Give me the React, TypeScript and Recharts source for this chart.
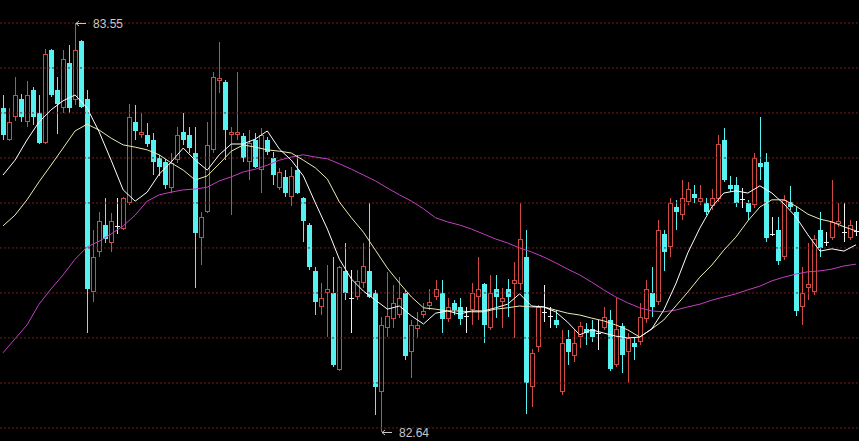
import React from 'react';
import { ComposedChart, Bar, Line, XAxis, YAxis, ReferenceLine, ReferenceDot } from 'recharts';

// ---- data (prices) ----
const opens = [
  83.361, 83.290, 83.341, 83.381, 83.330, 83.401, 83.350, 83.283, 83.490, 83.401,
  83.361, 83.461, 83.379, 83.510, 83.381, 82.952, 83.041, 83.101, 83.061, 83.099,
  83.092, 83.150, 83.330, 83.301, 83.301, 83.290, 83.250, 83.241, 83.183, 83.245,
  83.308, 83.301, 83.261, 83.072, 83.130, 83.268, 83.421, 83.419, 83.301, 83.301,
  83.299, 83.241, 83.290, 83.223, 83.290, 83.250, 83.183, 83.208, 83.163, 83.223,
  83.161, 83.101, 82.999, 82.919, 82.950, 82.950, 82.779, 82.999, 82.939, 82.941,
  82.972, 82.999, 82.950, 82.730, 82.872, 82.892, 82.901, 82.950, 82.819, 82.870,
  82.901, 82.921, 82.941, 82.950, 82.892, 82.928, 82.919, 82.899, 82.912, 82.941,
  82.970, 82.872, 82.959, 82.930, 82.959, 82.970, 82.970, 83.030, 82.741, 82.830,
  82.908, 82.899, 82.890, 82.730, 82.848, 82.810, 82.852, 82.870, 82.870, 82.861,
  82.872, 82.890, 82.790, 82.877, 82.819, 82.839, 82.841, 82.892, 82.950, 82.930,
  83.081, 83.052, 83.141, 83.123, 83.152, 83.170, 83.152, 83.150, 83.143, 83.159,
  83.290, 83.190, 83.190, 83.159, 83.150, 83.145, 83.239, 83.241, 83.081, 83.090,
  83.030, 83.152, 83.130, 82.919, 82.961, 82.952, 83.090, 83.063, 83.072, 83.103,
  83.085, 83.072, 83.088,
];
const highs = [
  83.390, 83.361, 83.430, 83.392, 83.421, 83.408, 83.390, 83.492, 83.492, 83.430,
  83.490, 83.501, 83.550, 83.512, 83.401, 83.090, 83.130, 83.161, 83.128, 83.161,
  83.163, 83.370, 83.368, 83.350, 83.328, 83.305, 83.257, 83.248, 83.261, 83.319,
  83.350, 83.319, 83.319, 83.130, 83.330, 83.441, 83.508, 83.423, 83.319, 83.441,
  83.305, 83.312, 83.305, 83.317, 83.297, 83.263, 83.228, 83.223, 83.230, 83.257,
  83.163, 83.105, 83.008, 82.972, 83.012, 83.030, 83.010, 83.061, 83.001, 83.001,
  83.061, 83.150, 82.957, 82.897, 82.997, 82.968, 82.985, 82.957, 82.890, 82.908,
  82.928, 82.959, 82.979, 82.979, 82.939, 82.934, 82.939, 82.919, 82.972, 83.030,
  82.972, 82.990, 82.990, 82.961, 82.981, 83.019, 83.150, 83.090, 82.825, 82.923,
  82.968, 82.919, 82.912, 82.868, 82.868, 82.868, 82.885, 82.883, 82.890, 82.890,
  82.919, 82.912, 82.939, 82.883, 82.861, 82.852, 82.928, 82.979, 83.008, 83.112,
  83.090, 83.161, 83.157, 83.201, 83.197, 83.190, 83.190, 83.161, 83.181, 83.301,
  83.317, 83.210, 83.208, 83.183, 83.157, 83.261, 83.341, 83.261, 83.119, 83.119,
  83.168, 83.188, 83.141, 83.008, 83.061, 83.079, 83.130, 83.085, 83.201, 83.150,
  83.150, 83.112, 83.110,
];
const lows = [
  83.290, 83.288, 83.332, 83.330, 83.319, 83.323, 83.281, 83.281, 83.385, 83.303,
  83.350, 83.350, 83.368, 83.361, 82.861, 82.930, 83.030, 83.061, 83.041, 83.081,
  83.090, 83.145, 83.290, 83.294, 83.274, 83.212, 83.210, 83.181, 83.172, 83.239,
  83.279, 83.261, 82.961, 83.012, 83.128, 83.261, 83.394, 83.245, 83.123, 83.290,
  83.241, 83.201, 83.228, 83.172, 83.257, 83.190, 83.179, 83.163, 83.143, 83.170,
  83.063, 83.001, 82.901, 82.901, 82.852, 82.785, 82.777, 82.934, 82.861, 82.934,
  82.961, 82.939, 82.679, 82.640, 82.852, 82.872, 82.894, 82.801, 82.761, 82.850,
  82.894, 82.912, 82.934, 82.861, 82.885, 82.901, 82.879, 82.861, 82.879, 82.890,
  82.839, 82.868, 82.894, 82.872, 82.897, 82.850, 82.957, 82.681, 82.697, 82.819,
  82.885, 82.872, 82.872, 82.723, 82.790, 82.797, 82.828, 82.834, 82.841, 82.823,
  82.868, 82.777, 82.785, 82.772, 82.750, 82.801, 82.834, 82.883, 82.897, 82.923,
  82.999, 83.030, 83.090, 83.112, 83.145, 83.150, 83.145, 83.123, 83.134, 83.152,
  83.197, 83.174, 83.141, 83.139, 83.112, 83.139, 83.201, 83.063, 83.077, 83.012,
  83.023, 83.134, 82.899, 82.879, 82.934, 82.945, 83.030, 83.054, 83.068, 83.097,
  83.063, 83.068, 83.077,
];
const closes = [
  83.301, 83.330, 83.390, 83.341, 83.390, 83.341, 83.283, 83.481, 83.390, 83.370,
  83.470, 83.361, 83.490, 83.363, 82.959, 83.030, 83.110, 83.070, 83.110, 83.099,
  83.161, 83.341, 83.310, 83.308, 83.281, 83.241, 83.230, 83.190, 83.239, 83.301,
  83.290, 83.272, 83.083, 83.119, 83.279, 83.430, 83.428, 83.312, 83.308, 83.308,
  83.250, 83.283, 83.230, 83.301, 83.263, 83.212, 83.219, 83.172, 83.210, 83.172,
  83.110, 83.008, 82.930, 82.939, 82.959, 82.790, 83.008, 82.950, 82.939, 82.977,
  83.010, 82.941, 82.741, 82.879, 82.899, 82.928, 82.939, 82.810, 82.879, 82.879,
  82.910, 82.930, 82.959, 82.892, 82.919, 82.912, 82.892, 82.899, 82.950, 82.959,
  82.879, 82.950, 82.941, 82.939, 82.941, 82.979, 83.070, 82.750, 82.817, 82.919,
  82.908, 82.899, 82.879, 82.839, 82.819, 82.839, 82.877, 82.861, 82.852, 82.861,
  82.897, 82.781, 82.870, 82.812, 82.850, 82.830, 82.897, 82.959, 82.919, 83.090,
  83.041, 83.150, 83.130, 83.161, 83.181, 83.161, 83.161, 83.130, 83.161, 83.281,
  83.201, 83.181, 83.150, 83.159, 83.130, 83.250, 83.230, 83.072, 83.081, 83.021,
  83.157, 83.141, 82.910, 82.950, 82.970, 83.070, 83.050, 83.063, 83.108, 83.110,
  83.085, 83.101, 83.088,
];

// moving averages, one value every second session (sessions 0, 2, 4, ...)
const ma10Vals = [
  83.212, 83.245, 83.290, 83.330, 83.357, 83.377, 83.390, 83.361, 83.308, 83.245,
  83.179, 83.154, 83.174, 83.214, 83.241, 83.272, 83.245, 83.223, 83.257, 83.281,
  83.281, 83.292, 83.310, 83.270, 83.245, 83.210, 83.150, 83.092, 83.025, 82.981,
  82.954, 82.934, 82.914, 82.921, 82.899, 82.881, 82.905, 82.910, 82.903, 82.910,
  82.910, 82.917, 82.925, 82.948, 82.921, 82.919, 82.908, 82.885, 82.857, 82.868,
  82.861, 82.854, 82.850, 82.852, 82.870, 82.912, 82.970, 83.039, 83.094, 83.141,
  83.172, 83.177, 83.172, 83.188, 83.172, 83.148, 83.119, 83.079, 83.043, 83.048,
  83.043, 83.057,
];
const ma20Vals = [
  83.099, 83.123, 83.157, 83.197, 83.234, 83.272, 83.310, 83.325, 83.312, 83.294,
  83.279, 83.274, 83.268, 83.257, 83.239, 83.223, 83.201, 83.210, 83.237, 83.265,
  83.279, 83.274, 83.268, 83.265, 83.261, 83.245, 83.228, 83.203, 83.152, 83.117,
  83.085, 83.045, 83.005, 82.972, 82.941, 82.917, 82.914, 82.910, 82.910, 82.908,
  82.908, 82.914, 82.917, 82.921, 82.919, 82.919, 82.912, 82.905, 82.901, 82.894,
  82.888, 82.879, 82.868, 82.852, 82.870, 82.890, 82.921, 82.952, 82.985, 83.012,
  83.045, 83.074, 83.110, 83.141, 83.157, 83.157, 83.143, 83.125, 83.114, 83.108,
  83.097, 83.088,
];
const ma60Vals = [
  82.817, 82.848, 82.879, 82.925, 82.959, 82.990, 83.025, 83.052, 83.065, 83.081,
  83.099, 83.123, 83.154, 83.168, 83.174, 83.179, 83.181, 83.185, 83.199, 83.208,
  83.219, 83.225, 83.234, 83.245, 83.252, 83.257, 83.252, 83.248, 83.237, 83.225,
  83.212, 83.199, 83.183, 83.168, 83.154, 83.137, 83.117, 83.108, 83.101, 83.092,
  83.081, 83.070, 83.061, 83.050, 83.041, 83.030, 83.017, 83.003, 82.990, 82.974,
  82.957, 82.941, 82.928, 82.917, 82.910, 82.908, 82.912, 82.919, 82.925, 82.934,
  82.941, 82.948, 82.957, 82.965, 82.977, 82.985, 82.992, 82.997, 82.999, 83.003,
  83.010, 83.014,
];

const gridPrices = [83.55, 83.45, 83.35, 83.25, 83.15, 83.05, 82.95, 82.85, 82.75, 82.65];
const highMark = { index: 12, price: 83.55, label: '83.55' };
const lowMark = { index: 63, price: 82.64, label: '82.64' };

const data = opens.map((o, i) => ({
  i,
  open: o,
  high: highs[i],
  low: lows[i],
  close: closes[i],
  range: [lows[i], highs[i]],
}));
// each average sampled on sessions 0, 2, 4, ...
const ma10Data = ma10Vals.map((v, j) => ({ i: j * 2, ma10: v }));
const ma20Data = ma20Vals.map((v, j) => ({ i: j * 2, ma20: v }));
const ma60Data = ma60Vals.map((v, j) => ({ i: j * 2, ma60: v }));

const UP = '#cf4a42';
const DOWN = '#56f2f2';
const FLAT = '#f0f0f0';

function Candle(props: any) {
  const { x, y, width, height, payload } = props;
  if (x == null || y == null || !payload) return null;
  const top = Math.min(y, y + height);
  const h = Math.abs(height);
  const { open, close, high, low } = payload;
  const span = high - low;
  const py = (v: number) => (span > 0 ? top + ((high - v) / span) * h : top);
  const left = Math.round(x + width / 2 - 2.5);
  const cx = left + 2.5;
  const yH = Math.round(py(high));
  const yL = Math.round(py(low));
  const bTop = Math.round(py(Math.max(open, close)));
  const bBot = Math.round(py(Math.min(open, close)));
  if (close === open) {
    return (
      <g>
        <line x1={cx} x2={cx} y1={yH} y2={yL} stroke={FLAT} strokeWidth={1} />
        <line x1={left} x2={left + 5} y1={bTop + 0.5} y2={bTop + 0.5} stroke={FLAT} strokeWidth={1} />
      </g>
    );
  }
  if (close > open) {
    const bh = Math.max(bBot - bTop - 1, 0);
    return (
      <g>
        <line x1={cx} x2={cx} y1={yH} y2={bTop} stroke={UP} strokeWidth={1} />
        <line x1={cx} x2={cx} y1={bBot} y2={yL} stroke={UP} strokeWidth={1} />
        <rect x={left + 0.5} y={bTop + 0.5} width={4} height={bh} fill="#000" stroke={UP} strokeWidth={1} />
      </g>
    );
  }
  return (
    <g>
      <line x1={cx} x2={cx} y1={yH} y2={yL} stroke={DOWN} strokeWidth={1} />
      <rect x={left} y={bTop} width={5} height={Math.max(bBot - bTop, 1)} fill={DOWN} />
    </g>
  );
}

function ArrowLabel(props: any) {
  const { cx, cy, text } = props;
  if (cx == null || cy == null) return null;
  const x0 = Math.round(cx) + 1;
  const yy = Math.round(cy) + 0.5;
  return (
    <g>
      <line x1={x0} x2={x0 + 10} y1={yy} y2={yy} stroke="#c8c8c8" strokeWidth={1} />
      <line x1={x0} x2={x0 + 3} y1={yy} y2={yy - 2.5} stroke="#c8c8c8" strokeWidth={1} />
      <line x1={x0} x2={x0 + 3} y1={yy} y2={yy + 2.5} stroke="#c8c8c8" strokeWidth={1} />
      <text
        x={x0 + 17}
        y={yy + 4}
        fill="#c8c8c8"
        fontSize={12}
        fontFamily="'Liberation Sans', Arial, sans-serif"
      >
        {text}
      </text>
    </g>
  );
}

export default function App() {
  return (
    <div style={{ position: 'absolute', left: 0, top: 0, width: 859, height: 441, background: '#000', overflow: 'hidden' }}>
      <ComposedChart width={859} height={441} data={data} margin={{ top: 0, right: 0, bottom: 0, left: 0 }}>
        <XAxis dataKey="i" type="category" allowDuplicatedCategory={false} hide />
        <YAxis type="number" domain={[82.621, 83.601]} allowDataOverflow hide />
        {gridPrices.map((p) => (
          <ReferenceLine key={p} y={p} stroke="#741c1c" strokeDasharray="2 2" strokeWidth={1} />
        ))}
        <Bar dataKey="range" barSize={5} shape={(p: any) => <Candle {...p} />} isAnimationActive={false} />
        <Line data={ma60Data} type="linear" dataKey="ma60" stroke="#c23fc2" strokeWidth={1} dot={false} activeDot={false} isAnimationActive={false} />
        <Line data={ma20Data} type="linear" dataKey="ma20" stroke="#ecebb4" strokeWidth={1} dot={false} activeDot={false} isAnimationActive={false} />
        <Line data={ma10Data} type="linear" dataKey="ma10" stroke="#ffffff" strokeWidth={1} dot={false} activeDot={false} isAnimationActive={false} />
        <ReferenceDot
          x={highMark.index}
          y={highMark.price}
          r={0}
          shape={(p: any) => <ArrowLabel {...p} text={highMark.label} />}
        />
        <ReferenceDot
          x={lowMark.index}
          y={lowMark.price}
          r={0}
          shape={(p: any) => <ArrowLabel {...p} text={lowMark.label} />}
        />
      </ComposedChart>
    </div>
  );
}
